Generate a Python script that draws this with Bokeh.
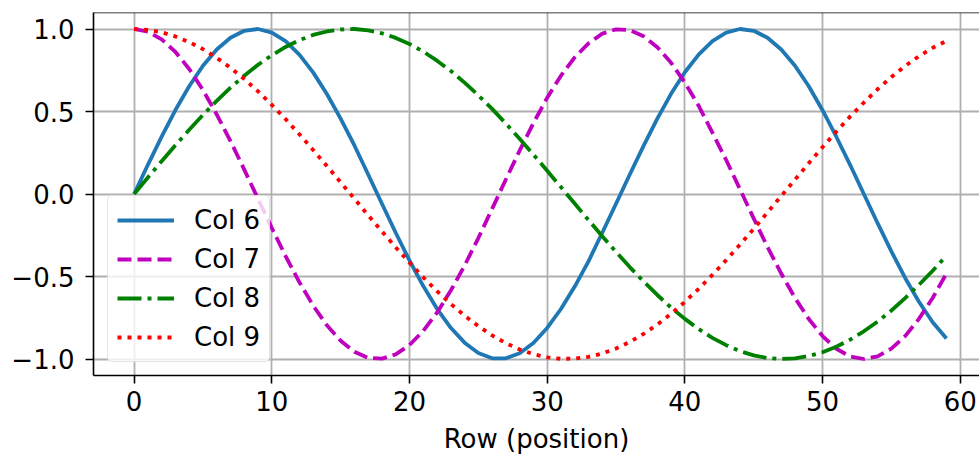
from bokeh.plotting import figure
from bokeh.models import Range1d, FixedTicker, Span
from bokeh.embed import file_html
from bokeh.resources import INLINE

rows = list(range(60))

col6 = [0.000, 0.177, 0.348, 0.509, 0.653, 0.777, 0.876, 0.947, 0.989, 1.000,
        0.978, 0.927, 0.845, 0.737, 0.606, 0.457, 0.294, 0.118, -0.059, -0.235,
        -0.403, -0.558, -0.696, -0.811, -0.901, -0.964, -0.996, -0.996, -0.965, -0.903,
        -0.812, -0.697, -0.561, -0.408, -0.235, -0.059, 0.118, 0.292, 0.457, 0.607,
        0.738, 0.845, 0.927, 0.978, 1.000, 0.989, 0.947, 0.876, 0.777, 0.653,
        0.508, 0.347, 0.177, 0.000, -0.177, -0.348, -0.509, -0.653, -0.777, -0.876]

col7 = [1.000, 0.984, 0.937, 0.861, 0.758, 0.630, 0.482, 0.320, 0.148, -0.030,
        -0.206, -0.376, -0.534, -0.676, -0.796, -0.889, -0.956, -0.993, -0.998, -0.972,
        -0.915, -0.830, -0.719, -0.585, -0.434, -0.267, -0.090, 0.088, 0.263, 0.430,
        0.583, 0.717, 0.828, 0.913, 0.972, 0.998, 0.993, 0.956, 0.890, 0.795,
        0.675, 0.535, 0.372, 0.206, 0.030, -0.148, -0.321, -0.482, -0.630, -0.758,
        -0.861, -0.938, -0.984, -1.000, -0.984, -0.937, -0.861, -0.757, -0.630, -0.482]

col8 = [0.000, 0.100, 0.199, 0.296, 0.389, 0.479, 0.565, 0.644, 0.717, 0.783,
        0.841, 0.891, 0.932, 0.964, 0.985, 0.997, 1.000, 0.992, 0.974, 0.946,
        0.909, 0.863, 0.808, 0.746, 0.675, 0.598, 0.516, 0.427, 0.335, 0.239,
        0.141, 0.042, -0.058, -0.158, -0.256, -0.351, -0.443, -0.530, -0.612, -0.688,
        -0.757, -0.818, -0.872, -0.916, -0.952, -0.978, -0.994, -1.000, -0.996, -0.982,
        -0.959, -0.926, -0.883, -0.832, -0.773, -0.706, -0.631, -0.551, -0.465, -0.374]

col9 = [1.000, 0.995, 0.980, 0.955, 0.921, 0.878, 0.825, 0.765, 0.697, 0.622,
        0.540, 0.454, 0.362, 0.267, 0.170, 0.071, -0.029, -0.129, -0.227, -0.323,
        -0.416, -0.505, -0.589, -0.666, -0.737, -0.801, -0.857, -0.904, -0.942, -0.971,
        -0.990, -0.999, -0.998, -0.987, -0.967, -0.936, -0.897, -0.848, -0.791, -0.726,
        -0.654, -0.575, -0.490, -0.401, -0.307, -0.211, -0.112, -0.012, 0.087, 0.187,
        0.284, 0.378, 0.469, 0.554, 0.635, 0.709, 0.776, 0.835, 0.886, 0.927]

series_names = ["Col 6", "Col 7", "Col 8", "Col 9"]
x_ticks = [0, 10, 20, 30, 40, 50, 60]
y_ticks = [-1.0, -0.5, 0.0, 0.5, 1.0]
y_tick_labels = ["\u22121.0", "\u22120.5", "0.0", "0.5", "1.0"]
x_label = "Row (position)"

FONT = "DejaVu Sans"
FS = "26px"

p = figure(width=979, height=456, output_backend="svg", toolbar_location=None,
           x_range=Range1d(-2.95, 61.4), y_range=Range1d(-1.1, 1.1),
           min_border_left=93, min_border_right=0, min_border_top=12, min_border_bottom=81)
p.background_fill_color = "white"
p.border_fill_color = "white"
p.outline_line_color = None

p.xgrid.ticker = FixedTicker(ticks=x_ticks)
p.ygrid.ticker = FixedTicker(ticks=y_ticks)
for g in (p.xgrid, p.ygrid):
    g.grid_line_color = "#b0b0b0"
    g.grid_line_width = 1.8

p.xaxis.ticker = FixedTicker(ticks=x_ticks)
p.yaxis.ticker = FixedTicker(ticks=y_ticks)
p.yaxis.major_label_overrides = {v: s for v, s in zip(y_ticks, y_tick_labels)}
p.xaxis.axis_label = x_label
for ax in (p.xaxis, p.yaxis):
    ax.axis_line_color = "black"
    ax.axis_line_width = 1.6
    ax.major_tick_line_color = "black"
    ax.major_tick_line_width = 1.6
    ax.major_tick_out = 8
    ax.major_tick_in = 0
    ax.minor_tick_line_color = None
    ax.major_label_text_font = FONT
    ax.major_label_text_font_size = FS
    ax.major_label_text_color = "black"
    ax.axis_label_text_font = FONT
    ax.axis_label_text_font_size = FS
    ax.axis_label_text_font_style = "normal"
    ax.axis_label_text_color = "black"
p.xaxis.major_label_standoff = 7
p.yaxis.major_label_standoff = 11
p.xaxis.axis_label_standoff = 10

p.add_layout(Span(location=1.1, dimension="width", line_color="black", line_width=1.6))

lw = 3.8
p.line(rows, col6, line_color="#1f77b4", line_width=lw, legend_label=series_names[0])
p.line(rows, col7, line_color="#bf00bf", line_width=lw, line_dash="14 6", legend_label=series_names[1])
p.line(rows, col8, line_color="#008000", line_width=lw, line_dash="24 6 4 6", legend_label=series_names[2])
p.line(rows, col9, line_color="#ff0000", line_width=lw, line_dash="4 6", legend_label=series_names[3])

lg = p.legend[0]
lg.location = (14, 13)
lg.margin = 0
lg.padding = 9
lg.spacing = 9
lg.glyph_width = 57
lg.glyph_height = 30
lg.label_height = 30
lg.label_standoff = 20
lg.label_text_font = FONT
lg.label_text_font_size = FS
lg.label_text_color = "black"
lg.background_fill_color = "white"
lg.background_fill_alpha = 0.8
lg.border_line_color = "#cccccc"
lg.border_line_width = 1.5
lg.border_radius = 5

open("out.html", "w").write(file_html(p, INLINE))
